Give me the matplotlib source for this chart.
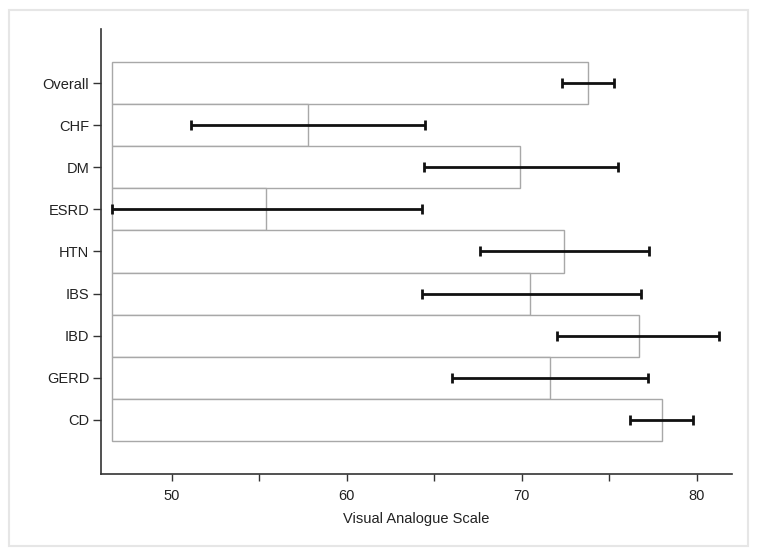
import matplotlib
matplotlib.use("Agg")
import matplotlib.pyplot as plt
from matplotlib.patches import Rectangle

plt.rcParams['font.family'] = ['Liberation Sans', 'DejaVu Sans']

categories = ["Overall", "CHF", "DM", "ESRD", "HTN", "IBS", "IBD", "GERD", "CD"]
means = [73.8, 57.8, 69.9, 55.4, 72.4, 70.5, 76.7, 71.6, 78.0]
ci_low = [72.3, 51.1, 64.4, 46.6, 67.6, 64.3, 72.0, 66.0, 76.2]
ci_high = [75.3, 64.5, 75.5, 64.3, 77.3, 76.8, 81.3, 77.2, 79.8]
xticks = [50, 60, 70, 80]
minor_xticks = [55, 65, 75]
base = 46.6

fig = plt.figure(figsize=(7.62, 5.57), dpi=100)
fig.patches.append(Rectangle((9/762, 1 - 546/557), (748-9)/762, (546-10)/557,
                             transform=fig.transFigure, fill=False,
                             edgecolor='#e6e6e6', linewidth=1.5))
ax = fig.add_axes([101/762, 1 - 474/557, (731.7-101)/762, (474-29)/557])

n = len(categories)
ypos = [n - 1 - i for i in range(n)]
widths = [m - base for m in means]
ax.barh(ypos, widths, left=base, height=1.0, color='white',
        edgecolor='#a8a8a8', linewidth=1.0, zorder=2)
xerr = [[m - l for m, l in zip(means, ci_low)], [h - m for m, h in zip(means, ci_high)]]
ax.errorbar(means, ypos, xerr=xerr, fmt='none', ecolor='#111111',
            elinewidth=2.0, capsize=3.3, capthick=2.0, zorder=3)

ax.set_xlim(45.96, 82.0)
ax.set_ylim(-1.29, n - 1 + 1.29)
ax.set_yticks(ypos)
ax.set_yticklabels(categories)
ax.set_xticks(xticks)
ax.set_xticks(minor_xticks, minor=True)
ax.set_xticklabels([str(t) for t in xticks])
ax.tick_params(axis='x', which='both', length=5, width=1.0, color='#333333',
               labelsize=10.5, pad=6, labelcolor='#222222')
ax.tick_params(axis='y', length=6, width=1.0, color='#333333',
               labelsize=10.5, pad=2.5, labelcolor='#222222')
ax.set_xlabel("Visual Analogue Scale", fontsize=10.5, color='#222222', labelpad=6)

for s in ['top', 'right']:
    ax.spines[s].set_visible(False)
for s in ['left', 'bottom']:
    ax.spines[s].set_color('#333333')
    ax.spines[s].set_linewidth(1.2)

fig.savefig("out.png", dpi=100)
